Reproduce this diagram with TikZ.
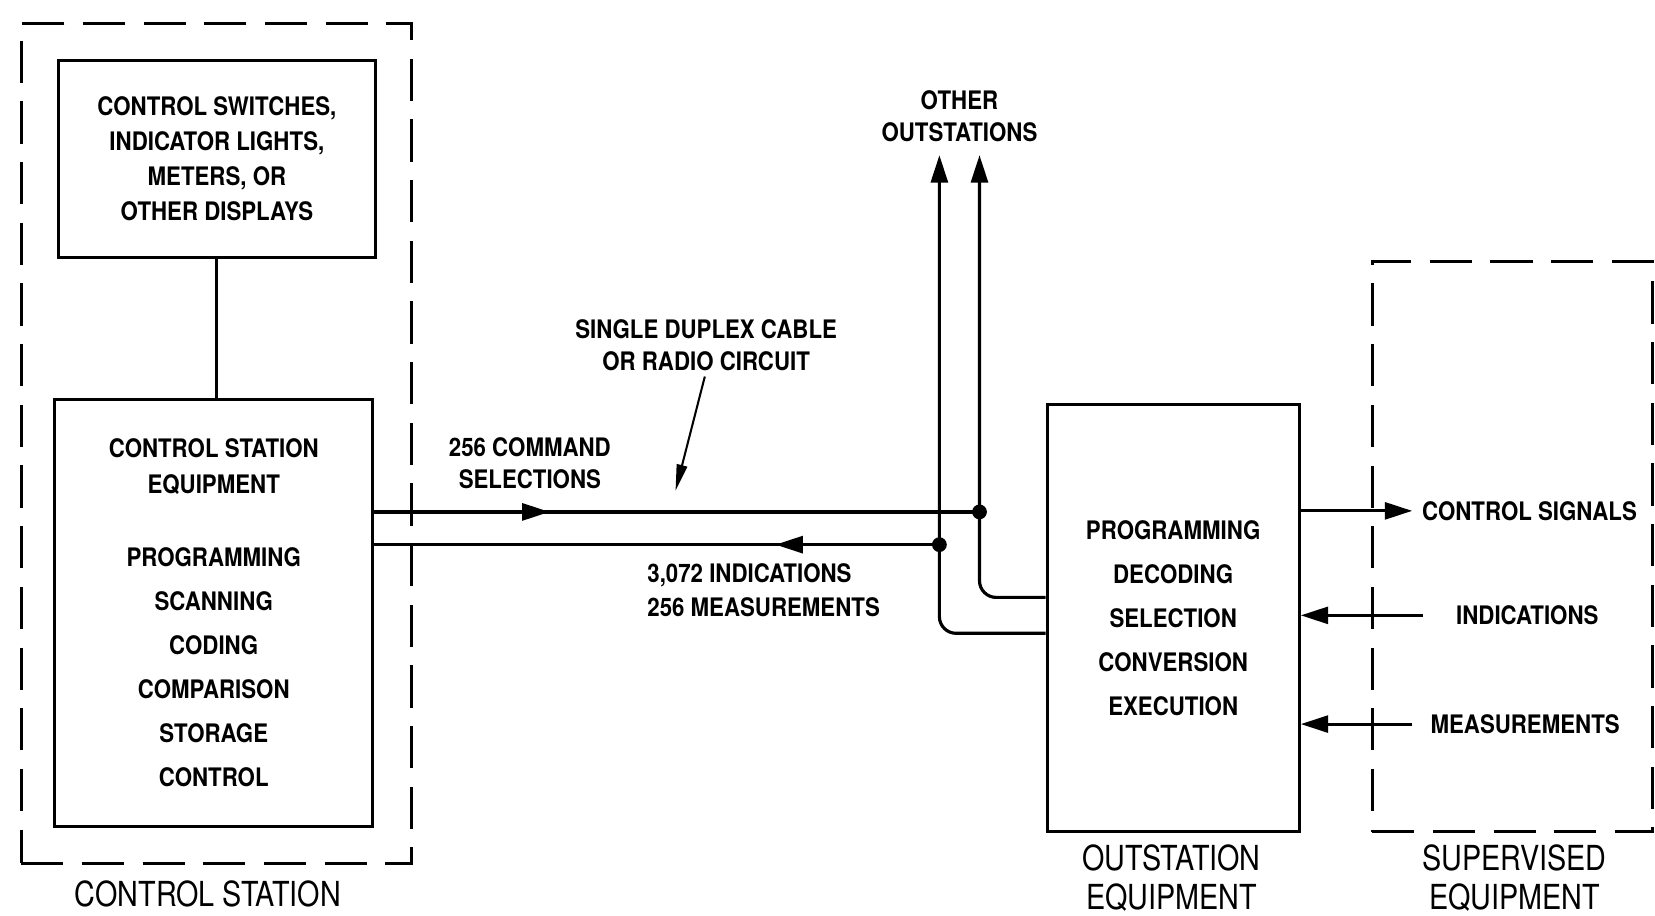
\documentclass[tikz,border=0pt]{standalone}
\usepackage{fontspec}
\usepackage{graphicx}
\setmainfont{TeX Gyre Heros}
\usetikzlibrary{arrows.meta,decorations.markings}
\newcommand{\sA}[1]{\scalebox{0.96}[1.1]{\bfseries #1}}
\newcommand{\sB}[1]{\scalebox{1}[1.2]{#1}}
\begin{document}
\begin{tikzpicture}[x=0.02cm,y=-0.02cm,
  inner/.style={font=\fontsize{12.5}{18.9}\selectfont},
  box/.style={draw, line width=1.6pt, inner sep=0pt, align=center, inner},
  dbox/.style={draw, line width=1.6pt, dash pattern=on 0.8cm off 0.35cm, inner sep=0pt},
  wire/.style={line width=1.7pt},
  arr/.style={-{Triangle[length=0.52cm,width=0.32cm]}},
  parr/.style={-{Triangle[length=0.5cm,width=0.2cm]}},
  lab/.style={inner sep=0pt, align=center, font=\fontsize{12.5}{17.6}\selectfont},
  big/.style={inner sep=0pt, font=\fontsize{15.5}{20}\selectfont},
  midarr/.style={postaction={decorate, decoration={markings,
     mark=at position #1 with {\arrow{Triangle[length=0.52cm,width=0.32cm]}}}}}
]
\useasboundingbox (0,0) rectangle (1568,867);

% dashed enclosures
\node[dbox, minimum width=7.4cm, minimum height=15.92cm] (csbox) at (205,420) {};
\node[dbox, minimum width=5.32cm, minimum height=10.8cm] (svbox) at (1433,518) {};

% boxes
\node[box, minimum width=6.02cm, minimum height=3.74cm] (disp) at (205.5,150.5)
  {\sA{CONTROL SWITCHES,}\\\sA{INDICATOR LIGHTS,}\\\sA{METERS, OR}\\\sA{OTHER DISPLAYS}};
\node[box, minimum width=6.02cm, minimum height=8.1cm] (cse) at (202.5,580.5)
  {\sA{CONTROL STATION}\\\sA{EQUIPMENT}\\[20.6pt]\sA{PROGRAMMING}\\[4.8pt]\sA{SCANNING}\\[4.8pt]\sA{CODING}\\[4.8pt]\sA{COMPARISON}\\[4.8pt]\sA{STORAGE}\\[4.8pt]\sA{CONTROL}};
\node[box, minimum width=4.78cm, minimum height=8.1cm] (ose) at (1111.5,585.5)
  {\sA{PROGRAMMING}\\[4.8pt]\sA{DECODING}\\[4.8pt]\sA{SELECTION}\\[4.8pt]\sA{CONVERSION}\\[4.8pt]\sA{EXECUTION}};

% labels
\node[lab] (other) at (909,110) {\sA{OTHER}\\\sA{OUTSTATIONS}};
\node[lab] (cable) at (669,327) {\sA{SINGLE DUPLEX CABLE}\\\sA{OR RADIO CIRCUIT}};
\node[lab, font=\fontsize{12.5}{17}\selectfont] (cmd) at (502,439) {\sA{256 COMMAND}\\\sA{SELECTIONS}};
\node[lab, align=left, anchor=west, font=\fontsize{12.5}{18.1}\selectfont] (indm) at (613,559) {\sA{3,072 INDICATIONS}\\\sA{256 MEASUREMENTS}};
\node[lab, anchor=west] (csig) at (1347,484) {\sA{CONTROL SIGNALS}};
\node[lab] (ind) at (1447,583) {\sA{INDICATIONS}};
\node[lab] (meas) at (1445,686) {\sA{MEASUREMENTS}};

\node[big, anchor=base] (lcs) at (197,859) {\sB{CONTROL STATION}};
\node[big, anchor=base] (los1) at (1110,825) {\sB{OUTSTATION}};
\node[big, anchor=base] (los2) at (1110,862) {\sB{EQUIPMENT}};
\node[big, anchor=base] (lsv1) at (1435,825) {\sB{SUPERVISED}};
\node[big, anchor=base] (lsv2) at (1435,862) {\sB{EQUIPMENT}};

% coordinates
\coordinate (jA) at (928,485);
\coordinate (jB) at (890,516);
\coordinate (tA) at (928,147);
\coordinate (tB) at (890,147);
\coordinate (pE) at (640,465);

% connectors
\draw[wire] (disp.south) -- (disp.south |- cse.north);
\draw[wire, midarr=0.29] (cse.east |- jA) -- (jA);
\draw[wire, midarr=0.29] (jB) -- (cse.east |- jB);
\draw[wire, arr, rounded corners=9pt] (ose.west |- 0,566) -| (tA);
\draw[wire, arr, rounded corners=9pt] (ose.west |- 0,600) -| (tB);
\fill (jA) circle (0.14cm);
\fill (jB) circle (0.14cm);
\draw[line width=1.1pt, parr, shorten <=0.1cm] (cable.south) -- (pE);

\draw[wire, arr, shorten >=0.18cm] (ose.east |- csig) -- (csig.west);
\draw[wire, arr] ([xshift=-0.62cm]ind.west) -- (ose.east |- ind);
\draw[wire, arr] ([xshift=-0.34cm]meas.west) -- (ose.east |- meas);
\end{tikzpicture}
\end{document}
